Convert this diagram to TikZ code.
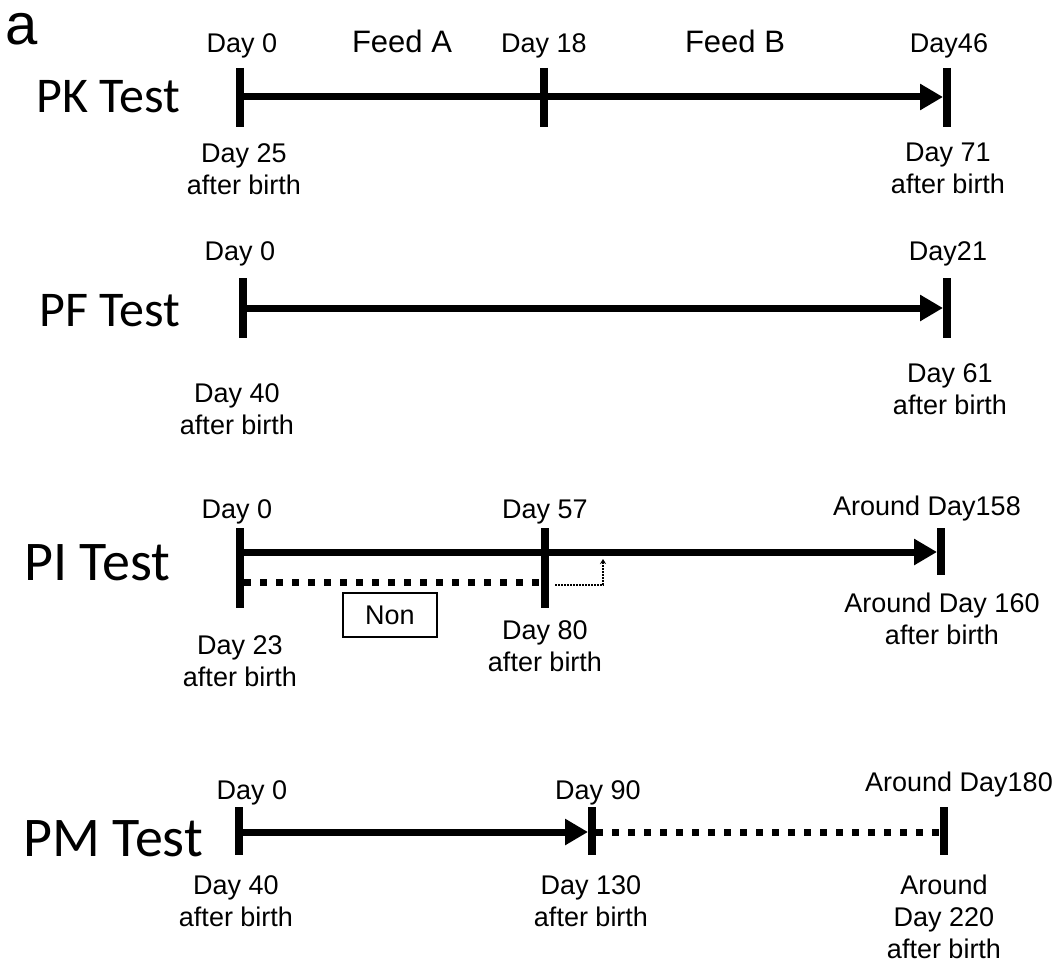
\documentclass[tikz,border=0pt]{standalone}
\usepackage{fontspec}
\setmainfont{Liberation Sans}
\newfontfamily\calibrifont{Carlito}
\usetikzlibrary{arrows.meta}

\begin{document}
\begin{tikzpicture}[
  x=1pt, y=-1pt,
  daylbl/.style={font=\fontsize{27}{32}\selectfont, inner sep=0pt, align=center},
  feedlbl/.style={font=\fontsize{31}{36}\selectfont, inner sep=0pt, anchor=base},
  testlbl/.style={font=\calibrifont\fontsize{#1}{#1}\selectfont, inner sep=0pt, anchor=base west},
  testlbl/.default={50},
  tickmark/.style={line width=8pt},
  tline/.style={line width=7pt, -{Triangle[length=23pt, width=25pt]}},
  dotline/.style={line width=7pt, dash pattern=on 7pt off 9pt},
  elbow/.style={line width=1.5pt, dash pattern=on 2pt off 1pt,
    -{Stealth[length=5pt, width=6pt]}}
]
\useasboundingbox (0,0) rectangle (1056,963);

% === panel letter ===
\node[font=\fontsize{58}{60}\selectfont, inner sep=0pt, anchor=base west] (panela) at (5,45) {a};

% === PK Test ===
\node[testlbl] (pk) at (36,113) {PK Test};
\coordinate (pk0) at (240,97);
\coordinate (pk18) at (544,97);
\coordinate (pk46) at (947,97);
\draw[tickmark] (240,68) -- (240,127);
\draw[tickmark] (544,68) -- (544,127);
\draw[tickmark] (947,68) -- (947,127);
\node[daylbl, anchor=base] (pkd0) at (242,53) {Day 0};
\node[feedlbl] (feeda) at (402,53) {Feed A};
\node[daylbl, anchor=base] (pkd18) at (544,53) {Day 18};
\node[feedlbl] (feedb) at (735,53) {Feed B};
\node[daylbl, anchor=base] (pkd46) at (949,53) {Day46};
\node[daylbl, anchor=north] (pkb0) at (244,143) {Day 25\\after birth};
\node[daylbl, anchor=north] (pkb46) at (948,143) {Day 71\\after birth};
\draw[tline] (pk0) -- ([xshift=-4pt]pk46);

% === PF Test ===
\node[testlbl] (pf) at (39,326) {PF Test};
\coordinate (pf0) at (243,308);
\coordinate (pf21) at (947,308);
\draw[tickmark] (243,278) -- (243,338);
\draw[tickmark] (947,278) -- (947,338);
\node[daylbl, anchor=base] (pfd0) at (240,260) {Day 0};
\node[daylbl, anchor=base] (pfd21) at (948,260) {Day21};
\node[daylbl, anchor=north] (pfb0) at (237,383) {Day 40\\after birth};
\node[daylbl, anchor=north] (pfb21) at (950,363) {Day 61\\after birth};
\draw[tline] (pf0) -- ([xshift=-4pt]pf21);

% === PI Test ===
\node[testlbl=56] (pi) at (24,580) {PI Test};
\coordinate (pi0) at (240,552);
\coordinate (pi158) at (941,552);
\coordinate (pinon0) at (244,582);
\coordinate (pinon57) at (541,582);
\coordinate (pinonend) at (555,585);
\coordinate (pimain) at (603,559);
\draw[tickmark] (240,528) -- (240,608);
\draw[tickmark] (545,528) -- (545,608);
\draw[tickmark] (941,528) -- (941,575);
\node[daylbl, anchor=base] (pid0) at (237,518) {Day 0};
\node[daylbl, anchor=base] (pid57) at (545,518) {Day 57};
\node[daylbl, anchor=base] (pid158) at (927,515) {Around Day158};
\node[daylbl, anchor=north] (pib0) at (240,635) {Day 23\\after birth};
\node[daylbl, anchor=north] (pib57) at (545,620) {Day 80\\after birth};
\node[daylbl, anchor=north] (pib158) at (942,593) {Around Day 160\\after birth};
\node[draw, line width=1.2pt, minimum width=94pt, minimum height=44pt,
  font=\fontsize{27}{32}\selectfont, inner sep=0pt] (nonbox) at (390,615) {Non};
\draw[tline] (pi0) -- ([xshift=-4pt]pi158);
\draw[dotline] (pinon0) -- (pinon57);
\draw[elbow] (pinonend) -| (pimain);

% === PM Test ===
\node[testlbl=56] (pm) at (23,856) {PM Test};
\coordinate (pm0) at (239,832);
\coordinate (pm90) at (592,832);
\coordinate (pm180) at (944,832);
\draw[tickmark] (239,807) -- (239,855);
\draw[tickmark] (592,807) -- (592,855);
\draw[tickmark] (944,807) -- (944,855);
\node[daylbl, anchor=base] (pmd0) at (252,799) {Day 0};
\node[daylbl, anchor=base] (pmd90) at (598,799) {Day 90};
\node[daylbl, anchor=base] (pmd180) at (959,791) {Around Day180};
\node[daylbl, anchor=north] (pmb0) at (236,875) {Day 40\\after birth};
\node[daylbl, anchor=north] (pmb90) at (591,875) {Day 130\\after birth};
\node[daylbl, anchor=north] (pmb180) at (944,875) {Around\\Day 220\\after birth};
\draw[tline] (pm0) -- ([xshift=-4pt]pm90);
\draw[dotline] ([xshift=4pt]pm90) -- ([xshift=-4pt]pm180);

\end{tikzpicture}
\end{document}
